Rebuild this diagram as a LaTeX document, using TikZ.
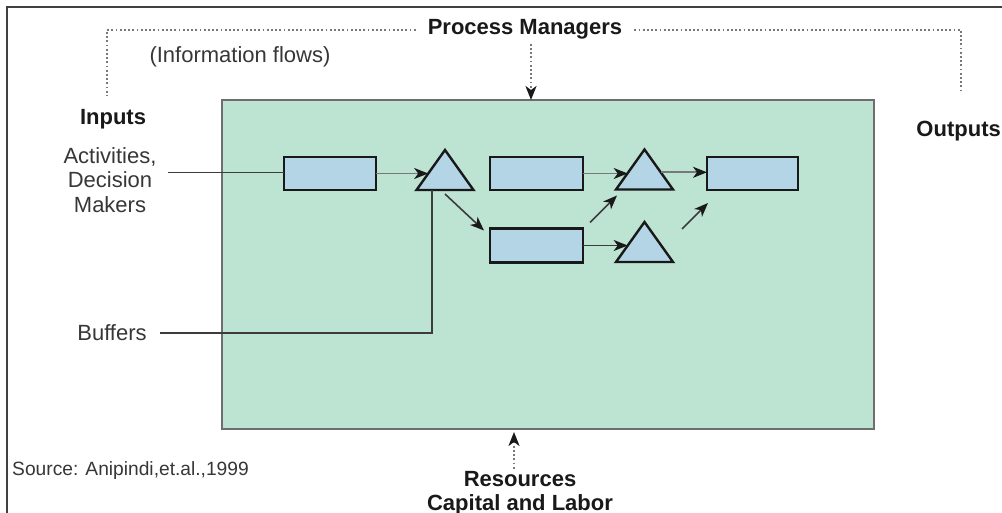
\documentclass[tikz,border=0pt]{standalone}
\usepackage{fontspec}
\setmainfont{Liberation Sans}
\usetikzlibrary{arrows.meta,calc}
\definecolor{mint}{RGB}{189,227,210}
\definecolor{boxblue}{RGB}{179,213,230}
\definecolor{rimgray}{RGB}{110,110,110}
\definecolor{txtgray}{RGB}{55,55,55}
\definecolor{dotgray}{RGB}{120,120,120}
\definecolor{linegray}{RGB}{60,60,60}
\definecolor{lightline}{RGB}{120,120,120}
\tikzset{
  lbl/.style={inner sep=0pt, text=txtgray, font=\fontsize{22}{25}\selectfont},
  blbl/.style={inner sep=0pt, text=black!90, font=\fontsize{22}{25}\selectfont\bfseries},
  procbox/.style={draw=rimgray, line width=1.6pt, fill=mint, inner sep=0pt, outer sep=0pt},
  blk/.style={draw=black!90, line width=2.4pt, fill=boxblue, inner sep=0pt, outer sep=0pt},
  trislot/.style={inner sep=0pt, outer sep=0pt, minimum width=57pt, minimum height=40pt},
  tri/.style={draw=black!90, line width=2.4pt, fill=boxblue, line join=miter},
  tip/.style={-{Stealth[length=14pt,width=11pt,inset=4pt,black!90]}},
  flow/.style={line width=1.6pt, draw=linegray},
  flowlight/.style={line width=1.6pt, draw=lightline},
  dots/.style={line width=1.8pt, draw=dotgray, dash pattern=on 1.8pt off 2.4pt},
  frameline/.style={line width=1.6pt, draw=black!75}
}
\begin{document}
\begin{tikzpicture}[x=1pt,y=-1pt]
\useasboundingbox (0,0) rectangle (1002,513);
\fill[white] (0,0) rectangle (1002,513);
% frame (cropped at right and bottom)
\draw[frameline] (7,513) -- (7,7) -- (1002,7);

% process area
\node[procbox, minimum width=652pt, minimum height=329pt] (proc) at (548,264.5) {};

% labels
\node[blbl, anchor=base, inner xsep=12pt, inner ysep=4pt] (pm) at (525,35) {Process Managers};
\node[lbl, anchor=base] (info) at (240,63) {(Information flows)};
\node[blbl, anchor=base] (inp) at (113,125) {Inputs};
\node[blbl, anchor=base east] (outp) at (1001,137) {Outputs};
\node[lbl, anchor=base] (act1) at (110,164) {Activities,};
\node[lbl, anchor=base] (act2) at (110,188) {Decision};
\node[lbl, anchor=base] (act3) at (110,213) {Makers};
\node[lbl, anchor=base] (buf) at (112,341) {Buffers};
\node[lbl, anchor=base west, font=\fontsize{19.2}{22}\selectfont] (src) at (12,475) {Source: Anipindi,et.al.,1999};
\node[blbl, anchor=base] (res) at (520,486) {Resources};
\node[blbl, anchor=base] (cap) at (520,510) {Capital and Labor};

% boxes
\node[blk, minimum width=92pt, minimum height=33pt] (r1) at (330,173.5) {};
\node[blk, minimum width=93pt, minimum height=33pt] (r2) at (536.5,173.5) {};
\node[blk, minimum width=93pt, minimum height=34pt] (r3) at (536.5,245.5) {};
\node[blk, minimum width=91pt, minimum height=33pt] (r4) at (752.5,173.5) {};

% triangles (buffers)
\node[trislot] (t1) at (445,170) {};
\node[trislot] (t2) at (644.5,169.5) {};
\node[trislot] (t3) at (644.5,242) {};
\draw[tri] (t1.north) -- (t1.south east) -- (t1.south west) -- cycle;
\draw[tri] (t2.north) -- (t2.south east) -- (t2.south west) -- cycle;
\draw[tri] (t3.north) -- (t3.south east) -- (t3.south west) -- cycle;

% points on triangle edges
\coordinate (t1in) at ($(t1.south west)!0.41!(t1.north)$);
\coordinate (t2in) at ($(t2.south west)!0.41!(t2.north)$);
\coordinate (t2out) at ($(t2.south east)!0.43!(t2.north)$);
\coordinate (t3in) at ($(t3.south west)!0.41!(t3.north)$);

% free ends
\coordinate (inA) at (168,172.5);
\coordinate (bufA) at (160,333);
\coordinate (bufT) at ($(t1.south)+(-13,0)$);
\coordinate (dotL) at (107,95);
\coordinate (dotR) at (961,93);

% information flows (dotted)
\draw[dots] (pm.west) -| (dotL);
\draw[dots] (pm.east) -| (dotR);
\draw[dots, tip] ($(pm.south)+(6,0)$) -- ($(proc.north)+(-17,0)$);
\draw[dots, tip] ($(res.north)+(-6,-2)$) -- ($(proc.south)+(-34,3)$);

% material flows
\draw[flow] (inA) -- (inA -| r1.west);
\draw[flowlight, tip] (r1.east) -- (r1.east -| t1in);
\draw[flow, tip] ($(t1.south)+(0,4)$) -- ($(r3.north west)+(-6,2)$);
\draw[flowlight, tip] (r2.east) -- (r2.east -| t2in);
\draw[flowlight, tip] (t2out) -- (t2out -| r4.west);
\draw[flow, tip] (r3.east) -- (r3.east -| t3in);
\draw[flow, tip] ($(r3.north east)+(7,-6)$) -- ($(t2.south west)+(1,6)$);
\draw[flow, tip] ($(t3.north east)+(9,7)$) -- ($(r4.south west)+(1,13)$);
\draw[flow] (bufA) -| (bufT);
\end{tikzpicture}
\end{document}
